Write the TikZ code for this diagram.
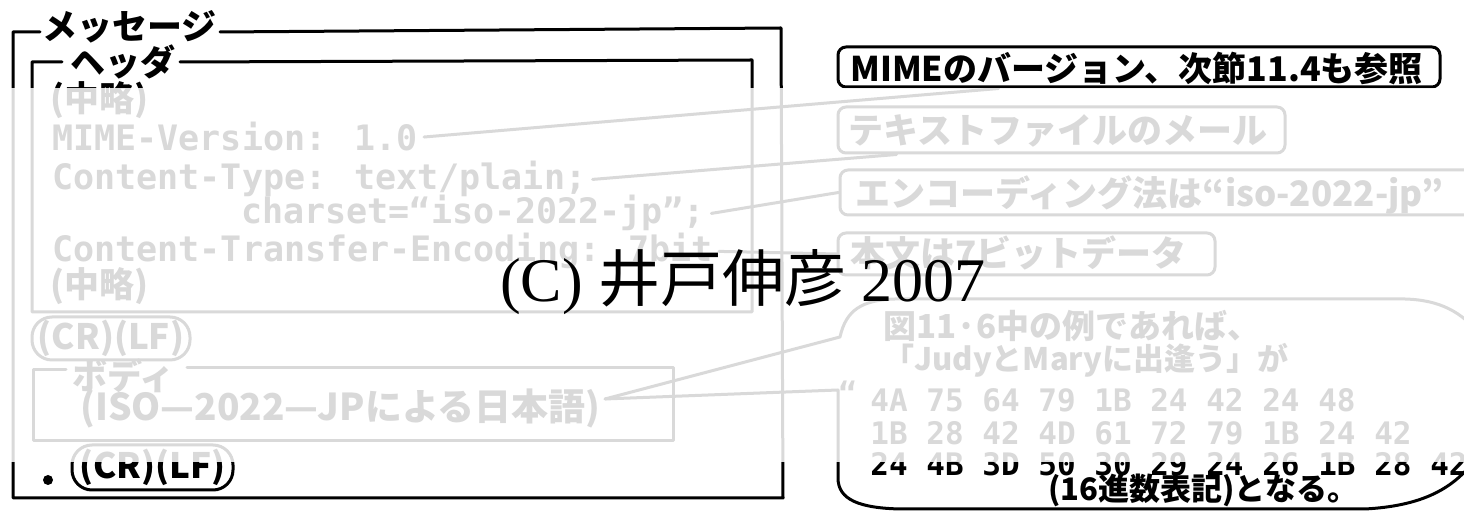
\documentclass[tikz,border=0pt]{standalone}
\usepackage{fontspec}
\setmainfont{Liberation Serif}
\newfontfamily\jp{Noto Sans CJK JP}
\newfontfamily\mono{DejaVu Sans Mono}
\tikzset{
 ln/.style={line width=1.5pt, line cap=round, line join=round},
 lbl/.style={font=\jp\bfseries\fontsize{17.5}{21}\selectfont, inner sep=0pt, anchor=base west},
 code/.style={font=\mono\bfseries\fontsize{17.5}{21}\selectfont, inner sep=0pt, anchor=base west},
 bub/.style={font=\jp\bfseries\fontsize{15.5}{19}\selectfont, inner sep=0pt, anchor=base west},
 hex/.style={font=\mono\bfseries\fontsize{15.5}{19}\selectfont, inner sep=0pt, anchor=base west},
 rbox/.style={ln, draw, rounded corners=4pt, inner sep=0pt},
 oval/.style={ln, draw, rounded corners=10pt, inner sep=0pt, font=\jp\bfseries\fontsize{17.5}{21}\selectfont},
 dot/.style={circle, fill, inner sep=0pt, minimum size=5pt},
 wmark/.style={font=\fontsize{31}{37}\selectfont, inner sep=0pt, anchor=base}
}
\begin{document}
\begin{tikzpicture}[x=0.5pt,y=-0.5pt]
\useasboundingbox (0,0) rectangle (1464,512);
\clip (0,0) rectangle (1464,512);
\fill[white] (0,0) rectangle (1464,512);

% message frame
\node[lbl] (msg) at (42,40) {メッセージ};
\draw[ln] (40,32) -- (13,32) -- (13,498) -- (783,498) -- (781,28) -- (220,32);

% header frame
\node[lbl] (hdr) at (70,76) {ヘッダ};
\draw[ln] (62,62) -- (32,62) -- (32,312) -- (752,312) -- (752,60) -- (180,62);

\node[lbl] (h1) at (50,112) {(中略)};
\node[code] (h2) at (52,151) {MIME-Version: 1.0};
\node[code] (h3) at (52,190) {Content-Type: text/plain;};
\node[code] (h4) at (241,224) {charset=“iso-2022-jp”;};
\node[code] (h5) at (52,262) {Content-Transfer-Encoding: 7bit};
\node[lbl] (h6) at (50,298) {(中略)};

% CRLF 1
\node[oval, minimum width=79pt, minimum height=21.5pt] (cr1) at (111,338.5) {(CR)(LF)};

% body frame
\node[lbl] (bdy) at (72,390) {ボディ};
\draw[ln] (66,370) -- (33,370) -- (33,441) -- (673,441) -- (673,368) -- (187,368);
\node[lbl, font=\jp\bfseries\fontsize{18.5}{22}\selectfont] (iso) at (80,421) {(ISO—2022—JPによる日本語)};

% CRLF 2
\node[oval, minimum width=80.5pt, minimum height=22.5pt] (cr2) at (152.5,467.5) {(CR)(LF)};
\node[dot] (bul) at (48,480) {};

% right boxes
\node[rbox, minimum width=301pt, minimum height=20pt] (mime) at (1139,67) {};
\node[lbl, font=\jp\bfseries\fontsize{17}{20}\selectfont] (mimet) at (850,82) {MIMEのバージョン、次節11.4も参照};
\node[rbox, minimum width=223.5pt, minimum height=23pt] (txt) at (1061.5,130) {};
\node[lbl] (txtt) at (848,144) {テキストファイルのメール};
\node[rbox, minimum width=325pt, minimum height=22.5pt] (enc) at (1165,192.5) {};
\node[lbl] (enct) at (855,207) {エンコーディング法は“iso-2022-jp”};
\node[rbox, minimum width=188.5pt, minimum height=21pt] (bun) at (1026.5,254) {};
\node[lbl] (bunt) at (850,267) {本文は7ビットデータ};

% connectors
\draw[ln] ([xshift=3pt]h2.east) -- ([xshift=81pt]mime.south west);
\draw[ln] ([xshift=3pt]h3.east) -- ([xshift=30pt]txt.south west);
\draw[ln] ([xshift=3pt]h4.east) -- (enc.west);
\draw[ln] ([xshift=3pt]h5.east) -- (bun.west);

% speech bubble
\coordinate (tip) at ([xshift=2pt,yshift=5pt]iso.east);
\draw[ln] (tip) -- (840,337) .. controls (846,310) and (862,300) .. (895,299) -- (1405,299) .. controls (1440,300) and (1462,312) .. (1480,335);
\draw[ln] (tip) -- (838,390) -- (838,478) .. controls (838,500) and (860,508) .. (900,509) -- (1365,509) .. controls (1420,506) and (1455,490) .. (1478,455);

\node[hex] (q) at (838,405) {“};
\node[bub, font=\jp\bfseries\fontsize{16.5}{20}\selectfont] (b1) at (883,339) {図11·6中の例であれば、};
\node[bub] (b2) at (883,371) {「JudyとMaryに出逢う」が};
\node[hex] (x1) at (870,412) {4A 75 64 79 1B 24 42 24 48};
\node[hex] (x2) at (870,445) {1B 28 42 4D 61 72 79 1B 24 42};
\node[hex] (x3) at (870,476) {24 4B 3D 50 30 29 24 26 1B 28 42};
\node[bub] (b3) at (1048,501) {(16進数表記)となる。};

% faded band
\fill[white, fill opacity=0.85] (0,88) rectangle (1464,462);

% watermark
\node[wmark] (wm) at (743,302) {(C) {\jp 井戸伸彦} 2007};
\end{tikzpicture}
\end{document}
